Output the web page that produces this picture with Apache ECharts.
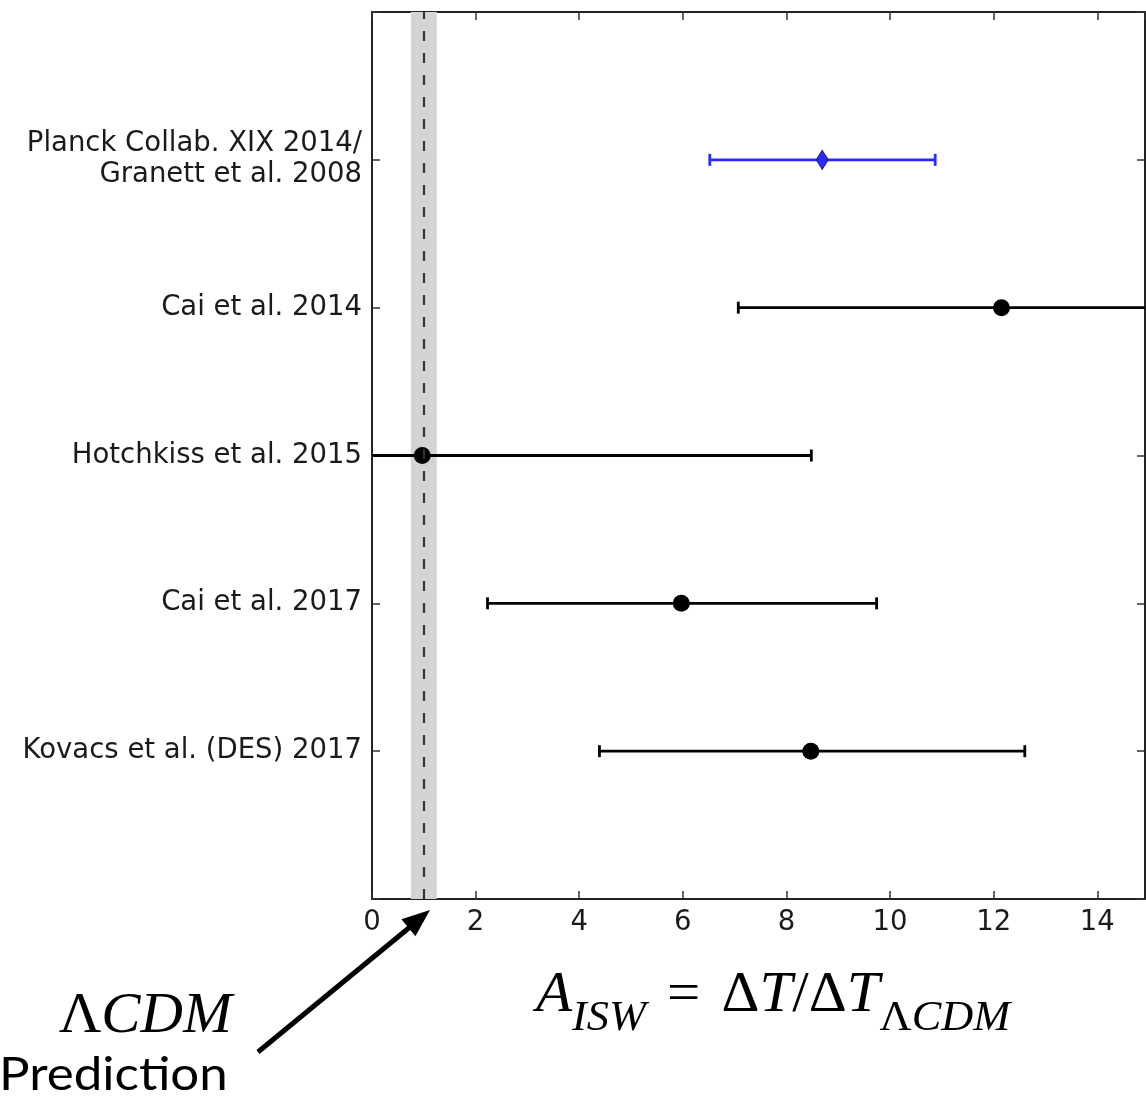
<!DOCTYPE html>
<html><head><meta charset="utf-8">
<script src="https://cdn.jsdelivr.net/npm/echarts@6/dist/echarts.min.js"></script>
<style>html,body{margin:0;padding:0;background:#fff}#c{width:1146px;height:1099px}</style>
</head><body><div id="c"></div>
<script>
// ---- data ----
const studies = ['Kovacs et al. (DES) 2017', 'Cai et al. 2017', 'Hotchkiss et al. 2015', 'Cai et al. 2014', 'Planck Collab. XIX 2014/\nGranett et al. 2008'];
const rowPos = [1, 2, 3, 4, 5];
const centers = [8.47, 5.97, 0.97, 12.15, 8.69];
const lows = [4.39, 2.23, -6.5, 7.07, 6.52];
const highs = [12.6, 9.74, 8.48, 17.2, 10.87];
const isPlanck = [false, false, false, false, true];
const xTicks = [0, 2, 4, 6, 8, 10, 12, 14];
const lcdmValue = 1.0;
const lcdmBand = [0.75, 1.25];

const chart = echarts.init(document.getElementById('c'));
const BLUE = '#2a2aff';

function errData(blue) {
  const out = [];
  for (let i = 0; i < studies.length; i++) if (isPlanck[i] === blue) out.push([lows[i], centers[i], highs[i], rowPos[i]]);
  return out;
}
function ptData(blue) {
  const out = [];
  for (let i = 0; i < studies.length; i++) if (isPlanck[i] === blue) out.push([centers[i], rowPos[i]]);
  return out;
}
function makeRender(color) {
  return function (params, api) {
    const lo = api.coord([api.value(0), api.value(3)]);
    const hi = api.coord([api.value(2), api.value(3)]);
    const cs = params.coordSys;
    const x0 = Math.max(lo[0], cs.x), x1 = Math.min(hi[0], cs.x + cs.width);
    const y = lo[1];
    const st = { stroke: color, lineWidth: 2.8 };
    const ch = [{ type: 'line', shape: { x1: x0, y1: y, x2: x1, y2: y }, style: st }];
    if (lo[0] >= cs.x) ch.push({ type: 'line', shape: { x1: lo[0], y1: y - 6, x2: lo[0], y2: y + 6 }, style: st });
    if (hi[0] <= cs.x + cs.width) ch.push({ type: 'line', shape: { x1: hi[0], y1: y - 6, x2: hi[0], y2: y + 6 }, style: st });
    return { type: 'group', children: ch };
  };
}

const axisLine = { show: true, onZero: false, lineStyle: { color: '#222', width: 2 } };
const tick = { show: true, inside: true, length: 8, lineStyle: { color: '#333', width: 1.5 } };
const labelFont = { fontFamily: 'DejaVu Sans', fontSize: 27.5, color: '#1a1a1a' };

chart.setOption({
  animation: false,
  backgroundColor: '#fff',
  grid: { left: 372, top: 12, right: 1, bottom: 200, containLabel: false },
  xAxis: [
    { type: 'value', min: 0, max: 14.92, interval: 2, position: 'bottom',
      axisLine, axisTick: tick, splitLine: { show: false },
      axisLabel: Object.assign({ margin: 10, showMaxLabel: false, formatter: v => xTicks.includes(v) ? String(v) : '' }, labelFont) },
    { type: 'value', min: 0, max: 14.92, interval: 2, position: 'top',
      axisLine, axisTick: tick, splitLine: { show: false }, axisLabel: { show: false } }
  ],
  yAxis: [
    { type: 'value', min: 0, max: 6, interval: 1, position: 'left',
      axisLine, axisTick: tick, splitLine: { show: false },
      axisLabel: Object.assign({ margin: 10, align: 'right', lineHeight: 31,
        formatter: v => { const i = rowPos.indexOf(v); return i >= 0 ? studies[i] : ''; } }, labelFont) },
    { type: 'value', min: 0, max: 6, interval: 1, position: 'right',
      axisLine, axisTick: tick, splitLine: { show: false }, axisLabel: { show: false } }
  ],
  series: [
    { type: 'line', data: [], silent: true,
      markArea: { silent: true, itemStyle: { color: '#d4d4d4' }, data: [[{ xAxis: lcdmBand[0] }, { xAxis: lcdmBand[1] }]] },
      markLine: { silent: true, symbol: 'none', label: { show: false },
        lineStyle: { color: '#333', type: [10, 12], width: 2.2 }, data: [{ xAxis: lcdmValue }] } },
    { type: 'custom', renderItem: makeRender('#000'), data: errData(false), encode: { x: [0, 1, 2], y: 3 }, z: 3 },
    { type: 'custom', renderItem: makeRender(BLUE), data: errData(true), encode: { x: [0, 1, 2], y: 3 }, z: 3 },
    { type: 'scatter', data: ptData(false), symbol: 'circle', symbolSize: 17, itemStyle: { color: '#000', opacity: 1 }, z: 4 },
    { type: 'scatter', data: ptData(true), symbol: 'diamond', symbolSize: [12, 19], itemStyle: { color: BLUE, opacity: 1, borderColor: '#1a1a66', borderWidth: 1 }, z: 4 }
  ],
  graphic: [
    { type: 'text', x: 232, y: 1045, scaleX: 1.05, style: {
        text: '{u|Λ}{i|CDM}', align: 'right', verticalAlign: 'bottom',
        rich: { u: { fontFamily: 'Liberation Serif', fontSize: 56, fill: '#000' }, i: { fontFamily: 'Liberation Serif', fontStyle: 'italic', fontSize: 56, fill: '#000' } } } },
    { type: 'text', x: -1, y: 1075, scaleX: 1.11, style: { text: 'Prediction', fontFamily: 'Lato', fontSize: 46, fill: '#000', align: 'left', verticalAlign: 'middle' } },
    { type: 'line', shape: { x1: 258, y1: 1052, x2: 410, y2: 927 }, style: { stroke: '#000', lineWidth: 5 } },
    { type: 'polygon', shape: { points: [[430, 910], [415.4, 936.3], [401.4, 919.3]] }, style: { fill: '#000' } },
    { type: 'text', x: 536, y: 1040, scaleX: 1.055, style: {
        text: '{i|A}{s|ISW}{e|=}{r|Δ}{i|T}{r|/Δ}{i|T}{su|Λ}{s|CDM}', align: 'left', verticalAlign: 'bottom',
        rich: {
          i: { fontFamily: 'Liberation Serif', fontStyle: 'italic', fontSize: 56, fill: '#000', verticalAlign: 'bottom', padding: [0, 0, 16, 0] },
          r: { fontFamily: 'Liberation Serif', fontSize: 56, fill: '#000', verticalAlign: 'bottom', padding: [0, 0, 16, 0] },
          e: { fontFamily: 'Liberation Serif', fontSize: 56, fill: '#000', verticalAlign: 'bottom', padding: [0, 20, 16, 20] },
          s: { fontFamily: 'Liberation Serif', fontStyle: 'italic', fontSize: 42, fill: '#000', verticalAlign: 'bottom', padding: [0, 0, 0, 0] },
          su: { fontFamily: 'Liberation Serif', fontSize: 42, fill: '#000', verticalAlign: 'bottom', padding: [0, 0, 0, 0] }
        } } }
  ]
});
</script></body></html>
